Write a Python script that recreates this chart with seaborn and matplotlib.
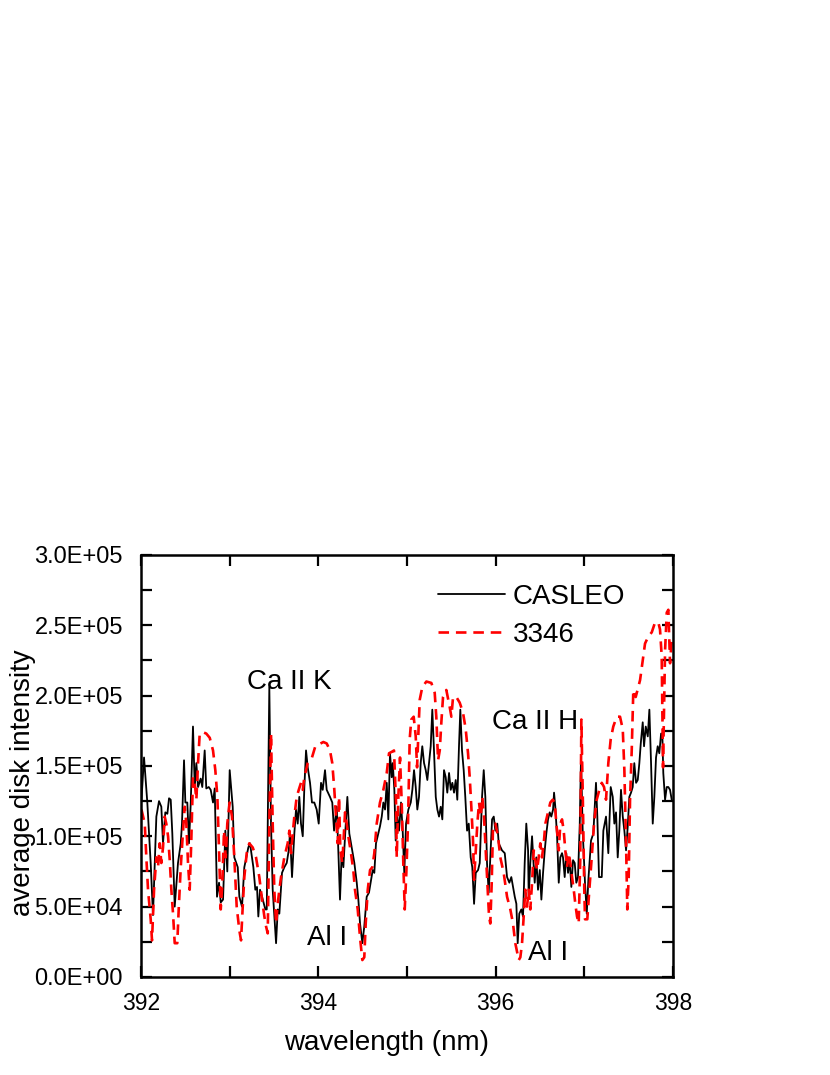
import numpy as np
import pandas as pd
import matplotlib
matplotlib.use("Agg")
import matplotlib.pyplot as plt
from matplotlib.ticker import MultipleLocator, FuncFormatter
import seaborn as sns

# ---------------- data ----------------
casleo_wavelength = [
    392.005, 392.034, 392.071, 392.109, 392.135, 392.173, 392.203, 392.229, 392.248, 392.274,
    392.297, 392.316, 392.335, 392.353, 392.380, 392.417, 392.448, 392.462, 392.485, 392.500,
    392.522, 392.541, 392.561, 392.586, 392.606, 392.624, 392.643, 392.673, 392.691, 392.718,
    392.736, 392.764, 392.786, 392.812, 392.831, 392.857, 392.880, 392.899, 392.925, 392.951,
    392.973, 393.000, 393.034, 393.052, 393.091, 393.109, 393.139, 393.165, 393.210, 393.229,
    393.267, 393.289, 393.308, 393.323, 393.342, 393.365, 393.402, 393.418, 393.447, 393.466,
    393.485, 393.523, 393.542, 393.560, 393.590, 393.616, 393.643, 393.666, 393.680, 393.703,
    393.729, 393.748, 393.767, 393.785, 393.804, 393.824, 393.842, 393.861, 393.880, 393.906,
    393.928, 393.954, 393.981, 394.004, 394.030, 394.049, 394.075, 394.094, 394.131, 394.157,
    394.177, 394.207, 394.225, 394.244, 394.263, 394.282, 394.301, 394.327, 394.349, 394.376,
    394.406, 394.433, 394.451, 394.470, 394.496, 394.518, 394.545, 394.571, 394.594, 394.613,
    394.631, 394.650, 394.676, 394.695, 394.715, 394.733, 394.752, 394.771, 394.789, 394.808,
    394.827, 394.839, 394.857, 394.872, 394.891, 394.910, 394.932, 394.951, 394.969, 394.989,
    395.015, 395.042, 395.060, 395.079, 395.098, 395.116, 395.135, 395.154, 395.172, 395.192,
    395.211, 395.229, 395.248, 395.267, 395.285, 395.304, 395.324, 395.342, 395.361, 395.380,
    395.398, 395.417, 395.436, 395.454, 395.474, 395.493, 395.511, 395.530, 395.549, 395.567,
    395.586, 395.601, 395.620, 395.639, 395.657, 395.677, 395.696, 395.718, 395.736, 395.756,
    395.775, 395.801, 395.820, 395.846, 395.865, 395.883, 395.902, 395.921, 395.939, 395.959,
    395.978, 395.996, 396.018, 396.034, 396.071, 396.102, 396.128, 396.154, 396.176, 396.195,
    396.215, 396.233, 396.248, 396.266, 396.289, 396.308, 396.327, 396.345, 396.365, 396.372,
    396.390, 396.410, 396.429, 396.440, 396.458, 396.477, 396.497, 396.515, 396.534, 396.553,
    396.571, 396.590, 396.609, 396.627, 396.647, 396.658, 396.672, 396.692, 396.711, 396.729,
    396.748, 396.759, 396.778, 396.796, 396.816, 396.835, 396.853, 396.872, 396.891, 396.909,
    396.928, 396.948, 396.962, 396.981, 397.007, 397.027, 397.045, 397.075, 397.101, 397.131,
    397.146, 397.165, 397.196, 397.214, 397.244, 397.270, 397.297, 397.320, 397.338, 397.357,
    397.376, 397.394, 397.413, 397.433, 397.451, 397.470, 397.489, 397.507, 397.526, 397.545,
    397.563, 397.583, 397.602, 397.620, 397.636, 397.658, 397.673, 397.692, 397.715, 397.733,
    397.752, 397.771, 397.789, 397.808, 397.827, 397.845, 397.865, 397.879, 397.890, 397.910,
    397.929, 397.947, 397.966, 397.985,
]
casleo_intensity = [
    126e3, 156e3, 124e3, 81e3, 44e3, 114e3, 125e3, 121e3, 95e3, 117e3,
    116e3, 127e3, 126e3, 102e3, 50e3, 81e3, 95e3, 109e3, 154e3, 124e3,
    124e3, 95e3, 124e3, 178e3, 135e3, 152e3, 135e3, 141e3, 135e3, 161e3,
    134e3, 135e3, 133e3, 124e3, 134e3, 57e3, 67e3, 53e3, 55e3, 104e3,
    75e3, 147e3, 121e3, 85e3, 78e3, 57e3, 50e3, 78e3, 92e3, 95e3,
    78e3, 62e3, 64e3, 43e3, 62e3, 57e3, 48e3, 48e3, 206e3, 109e3,
    62e3, 24e3, 48e3, 45e3, 74e3, 78e3, 81e3, 90e3, 102e3, 71e3,
    102e3, 119e3, 109e3, 128e3, 109e3, 100e3, 135e3, 161e3, 149e3, 138e3,
    124e3, 124e3, 119e3, 109e3, 138e3, 133e3, 147e3, 133e3, 128e3, 124e3,
    104e3, 121e3, 90e3, 55e3, 88e3, 78e3, 100e3, 128e3, 102e3, 92e3,
    81e3, 67e3, 55e3, 38e3, 24e3, 36e3, 57e3, 60e3, 69e3, 76e3,
    74e3, 95e3, 102e3, 107e3, 114e3, 124e3, 119e3, 138e3, 112e3, 159e3,
    142e3, 152e3, 133e3, 97e3, 114e3, 104e3, 124e3, 104e3, 74e3, 109e3,
    119e3, 124e3, 133e3, 147e3, 135e3, 119e3, 128e3, 152e3, 164e3, 152e3,
    147e3, 140e3, 152e3, 164e3, 190e3, 161e3, 128e3, 119e3, 114e3, 121e3,
    112e3, 147e3, 142e3, 131e3, 145e3, 133e3, 138e3, 131e3, 140e3, 126e3,
    164e3, 190e3, 161e3, 147e3, 128e3, 104e3, 109e3, 85e3, 78e3, 52e3,
    74e3, 76e3, 81e3, 128e3, 147e3, 128e3, 81e3, 60e3, 85e3, 112e3,
    114e3, 104e3, 109e3, 95e3, 90e3, 88e3, 71e3, 67e3, 71e3, 64e3,
    57e3, 52e3, 24e3, 45e3, 48e3, 43e3, 81e3, 109e3, 90e3, 57e3,
    81e3, 100e3, 78e3, 67e3, 85e3, 62e3, 76e3, 55e3, 74e3, 90e3,
    102e3, 112e3, 117e3, 114e3, 119e3, 131e3, 121e3, 100e3, 67e3, 85e3,
    88e3, 85e3, 71e3, 88e3, 74e3, 83e3, 64e3, 83e3, 81e3, 67e3,
    71e3, 109e3, 156e3, 104e3, 67e3, 45e3, 69e3, 97e3, 102e3, 138e3,
    114e3, 71e3, 71e3, 104e3, 114e3, 88e3, 135e3, 128e3, 109e3, 117e3,
    85e3, 104e3, 133e3, 114e3, 104e3, 90e3, 107e3, 128e3, 131e3, 135e3,
    152e3, 138e3, 140e3, 152e3, 166e3, 181e3, 164e3, 178e3, 171e3, 190e3,
    152e3, 109e3, 128e3, 156e3, 164e3, 159e3, 173e3, 173e3, 145e3, 126e3,
    135e3, 135e3, 133e3, 126e3,
]

run3346_wavelength = [
    392.005, 392.042, 392.060, 392.079, 392.109, 392.124, 392.147, 392.173, 392.192, 392.211,
    392.229, 392.248, 392.267, 392.285, 392.305, 392.324, 392.342, 392.361, 392.380, 392.409,
    392.425, 392.448, 392.474, 392.493, 392.511, 392.530, 392.549, 392.567, 392.586, 392.606,
    392.624, 392.643, 392.662, 392.699, 392.736, 392.775, 392.812, 392.838, 392.861, 392.880,
    392.899, 392.917, 392.936, 392.955, 392.973, 393.000, 393.026, 393.052, 393.079, 393.109,
    393.128, 393.147, 393.165, 393.192, 393.221, 393.260, 393.297, 393.334, 393.365, 393.391,
    393.410, 393.429, 393.447, 393.466, 393.485, 393.503, 393.523, 393.542, 393.560, 393.579,
    393.616, 393.654, 393.673, 393.692, 393.711, 393.729, 393.756, 393.779, 393.804, 393.824,
    393.842, 393.880, 393.928, 393.966, 394.056, 394.094, 394.131, 394.157, 394.180, 394.199,
    394.218, 394.233, 394.248, 394.270, 394.301, 394.320, 394.338, 394.368, 394.394, 394.413,
    394.444, 394.470, 394.496, 394.518, 394.534, 394.557, 394.583, 394.609, 394.631, 394.658,
    394.695, 394.733, 394.771, 394.797, 394.827, 394.853, 394.876, 394.884, 394.902, 394.921,
    394.940, 394.958, 394.974, 394.992, 395.011, 395.030, 395.048, 395.075, 395.098, 395.113,
    395.127, 395.143, 395.172, 395.218, 395.274, 395.312, 395.330, 395.350, 395.369, 395.387,
    395.406, 395.443, 395.481, 395.500, 395.519, 395.556, 395.594, 395.631, 395.662, 395.688,
    395.707, 395.725, 395.744, 395.756, 395.775, 395.793, 395.812, 395.831, 395.849, 395.868,
    395.887, 395.906, 395.925, 395.939, 395.955, 395.970, 395.996, 396.026, 396.052, 396.090,
    396.128, 396.165, 396.195, 396.221, 396.260, 396.278, 396.297, 396.316, 396.334, 396.353,
    396.372, 396.390, 396.410, 396.429, 396.447, 396.466, 396.485, 396.503, 396.522, 396.542,
    396.560, 396.579, 396.598, 396.616, 396.643, 396.666, 396.684, 396.711, 396.729, 396.748,
    396.767, 396.785, 396.804, 396.824, 396.842, 396.861, 396.880, 396.898, 396.917, 396.936,
    396.954, 396.966, 396.981, 396.999, 397.007, 397.033, 397.056, 397.083, 397.109, 397.139,
    397.169, 397.196, 397.222, 397.244, 397.270, 397.297, 397.326, 397.365, 397.402, 397.433,
    397.451, 397.470, 397.484, 397.500, 397.515, 397.534, 397.552, 397.579, 397.608, 397.628,
    397.658, 397.684, 397.721, 397.760, 397.797, 397.834, 397.853, 397.872, 397.887, 397.910,
    397.929, 397.947, 397.966, 397.985,
]
run3346_intensity = [
    119e3, 109e3, 85e3, 62e3, 41e3, 26e3, 62e3, 85e3, 78e3, 95e3,
    81e3, 92e3, 114e3, 109e3, 100e3, 83e3, 62e3, 45e3, 24e3, 24e3,
    48e3, 78e3, 104e3, 121e3, 109e3, 81e3, 62e3, 97e3, 142e3, 138e3,
    126e3, 152e3, 173e3, 174e3, 173e3, 170e3, 161e3, 147e3, 128e3, 90e3,
    48e3, 67e3, 104e3, 85e3, 109e3, 124e3, 114e3, 85e3, 50e3, 33e3,
    26e3, 50e3, 71e3, 88e3, 95e3, 92e3, 85e3, 71e3, 55e3, 43e3,
    36e3, 31e3, 109e3, 173e3, 109e3, 62e3, 38e3, 52e3, 62e3, 71e3,
    85e3, 95e3, 104e3, 88e3, 102e3, 114e3, 128e3, 133e3, 138e3, 133e3,
    142e3, 152e3, 156e3, 164e3, 167e3, 166e3, 161e3, 152e3, 133e3, 114e3,
    95e3, 128e3, 90e3, 81e3, 117e3, 109e3, 100e3, 88e3, 76e3, 62e3,
    48e3, 28e3, 12e3, 14e3, 38e3, 62e3, 76e3, 78e3, 88e3, 109e3,
    124e3, 133e3, 145e3, 159e3, 160e3, 161e3, 124e3, 85e3, 128e3, 156e3,
    124e3, 81e3, 48e3, 74e3, 109e3, 169e3, 183e3, 185e3, 171e3, 149e3,
    171e3, 197e3, 206e3, 210e3, 209e3, 202e3, 185e3, 154e3, 161e3, 181e3,
    199e3, 204e3, 192e3, 185e3, 199e3, 199e3, 195e3, 188e3, 176e3, 159e3,
    142e3, 121e3, 97e3, 69e3, 90e3, 109e3, 124e3, 114e3, 128e3, 114e3,
    90e3, 67e3, 43e3, 38e3, 67e3, 108e3, 109e3, 100e3, 85e3, 74e3,
    57e3, 48e3, 38e3, 24e3, 12e3, 14e3, 24e3, 43e3, 62e3, 50e3,
    62e3, 48e3, 67e3, 90e3, 83e3, 76e3, 85e3, 95e3, 85e3, 95e3,
    109e3, 114e3, 119e3, 124e3, 126e3, 124e3, 109e3, 90e3, 109e3, 112e3,
    104e3, 90e3, 78e3, 88e3, 81e3, 71e3, 62e3, 52e3, 43e3, 38e3,
    85e3, 183e3, 133e3, 62e3, 41e3, 41e3, 62e3, 85e3, 109e3, 126e3,
    133e3, 138e3, 135e3, 126e3, 152e3, 169e3, 178e3, 185e3, 185e3, 176e3,
    147e3, 95e3, 48e3, 71e3, 126e3, 161e3, 204e3, 199e3, 206e3, 211e3,
    225e3, 237e3, 242e3, 245e3, 252e3, 252e3, 247e3, 228e3, 149e3, 232e3,
    259e3, 261e3, 223e3, 240e3,
]

series_labels = ["CASLEO", "3346"]
line_labels = ["Ca II K", "Ca II H", "Al I", "Al I"]
line_label_wavelength = [393.195, 395.955, 393.872, 396.364]
line_label_intensity = [210e3, 181e3, 28e3, 17e3]

x_ticks = [392, 394, 396, 398]

# ---------------- style ----------------
sns.set_style("ticks")
plt.rcParams["font.family"] = ["Liberation Sans", "DejaVu Sans"]
plt.rcParams.update({
    "text.color": "black",
    "axes.labelcolor": "black",
    "axes.edgecolor": "black",
    "xtick.color": "black",
    "ytick.color": "black",
    "axes.linewidth": 1.8,
})

fig = plt.figure(figsize=(8.3, 10.75), dpi=100)
ax = fig.add_axes([0.1699, 0.0912, 0.6410, 0.3926])

df_c = pd.DataFrame({"wavelength": casleo_wavelength, "intensity": casleo_intensity})
df_r = pd.DataFrame({"wavelength": run3346_wavelength, "intensity": run3346_intensity})

sns.lineplot(data=df_c, x="wavelength", y="intensity", ax=ax, color="black",
             linewidth=1.3, estimator=None, sort=False, label=series_labels[0])
sns.lineplot(data=df_r, x="wavelength", y="intensity", ax=ax, color="#ff0000",
             linewidth=1.9, estimator=None, sort=False, label=series_labels[1])
ax.lines[1].set_dashes((4, 2.6))

ax.set_xlim(392, 398)
ax.set_ylim(0, 3e5)
ax.set_xticks(x_ticks)
ax.xaxis.set_minor_locator(MultipleLocator(1))
ax.yaxis.set_major_locator(MultipleLocator(5e4))
ax.yaxis.set_minor_locator(MultipleLocator(2.5e4))
ax.yaxis.set_major_formatter(FuncFormatter(lambda v, p: f"{v:.1E}"))
ax.tick_params(which="both", direction="in", top=True, right=True,
               length=8, width=1.6, color="black")
ax.tick_params(axis="x", which="major", labelsize=16.5, pad=11, labelcolor="black")
ax.tick_params(axis="y", which="major", labelsize=17, pad=13, labelcolor="black")
for s in ax.spines.values():
    s.set_linewidth(1.8)
    s.set_color("black")
    s.set_visible(True)

ax.set_xlabel("wavelength (nm)", fontsize=20, color="black")
ax.set_ylabel("average disk intensity", fontsize=20, color="black")
ax.xaxis.set_label_coords(0.462, -0.125)
ax.yaxis.set_label_coords(-0.197, 0.46)

for t, xw, yv in zip(line_labels, line_label_wavelength, line_label_intensity):
    ax.text(xw, yv, t, fontsize=20, ha="left", va="center", color="black")

leg = ax.legend(loc="upper left", bbox_to_anchor=(0.558, 0.932), frameon=False,
                fontsize=20, handlelength=2.4, handletextpad=0.3, labelspacing=0.45,
                borderpad=0, borderaxespad=0)
for txt in leg.get_texts():
    txt.set_color("black")

fig.savefig("out.png", dpi=100)
